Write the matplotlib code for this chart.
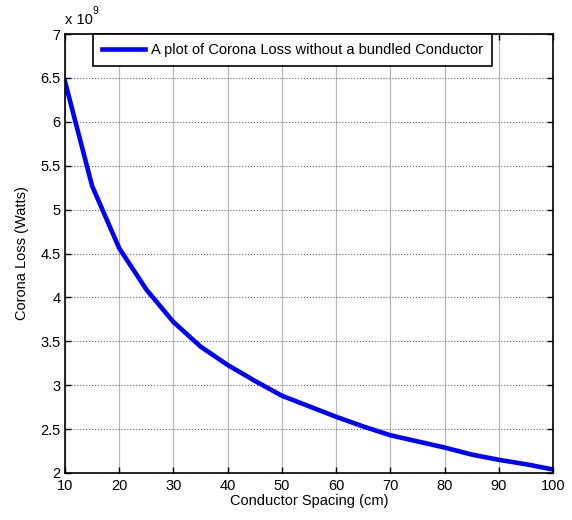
import matplotlib
matplotlib.use("Agg")
import matplotlib.pyplot as plt
from matplotlib.ticker import FuncFormatter

spacing_cm = [10, 15, 20, 25, 30, 35, 40, 45, 50, 55, 60, 65, 70, 75, 80, 85, 90, 95, 100]
corona_loss = [6.46, 5.27, 4.56, 4.09, 3.72, 3.44, 3.23, 3.05, 2.88, 2.76, 2.64, 2.53,
               2.43, 2.36, 2.29, 2.21, 2.15, 2.10, 2.04]  # x 1e9 W
x_ticks = [10, 20, 30, 40, 50, 60, 70, 80, 90, 100]
y_ticks = [2, 2.5, 3, 3.5, 4, 4.5, 5, 5.5, 6, 6.5, 7]

plt.rcParams['font.family'] = ['Liberation Sans', 'DejaVu Sans']

fig = plt.figure(figsize=(5.72, 5.20), dpi=100)
ax = fig.add_axes([0.1136, 0.0904, 0.8532, 0.8442])

ax.plot(spacing_cm, corona_loss, color='#0000ff', linewidth=3.3,
        label='A plot of Corona Loss without a bundled Conductor', solid_joinstyle='miter')

ax.set_xlim(10, 100)
ax.set_ylim(2, 7)
ax.set_xticks(x_ticks)
ax.set_yticks(y_ticks)
ax.yaxis.set_major_formatter(FuncFormatter(lambda v, p: f"{v:g}"))
ax.tick_params(direction='in', top=True, right=True, length=4, width=1,
               labelsize=10.5, pad=3)
ax.tick_params(axis='x', pad=4)
for s in ax.spines.values():
    s.set_linewidth(1.2)

ax.xaxis.grid(True, linestyle='-', color='0.72', linewidth=0.9)
ax.yaxis.grid(True, linestyle=':', color='0.4', linewidth=0.8)

ax.set_xlabel('Conductor Spacing (cm)', fontsize=10.5, labelpad=1)
ax.set_ylabel('Corona Loss (Watts)', fontsize=10.5, labelpad=8)

ax.text(0.0, 1.015, 'x 10', transform=ax.transAxes, fontsize=10.5, ha='left', va='bottom')
ax.text(0.056, 1.04, '9', transform=ax.transAxes, fontsize=7.5, ha='left', va='bottom')

leg = ax.legend(loc='upper left', bbox_to_anchor=(0.057, 1.0), borderaxespad=0,
                fancybox=False, edgecolor='black', framealpha=1, fontsize=10.5,
                handlelength=3.0, borderpad=0.6, handletextpad=0.4)
leg.get_frame().set_linewidth(1.2)

fig.savefig('out.png', dpi=100)
